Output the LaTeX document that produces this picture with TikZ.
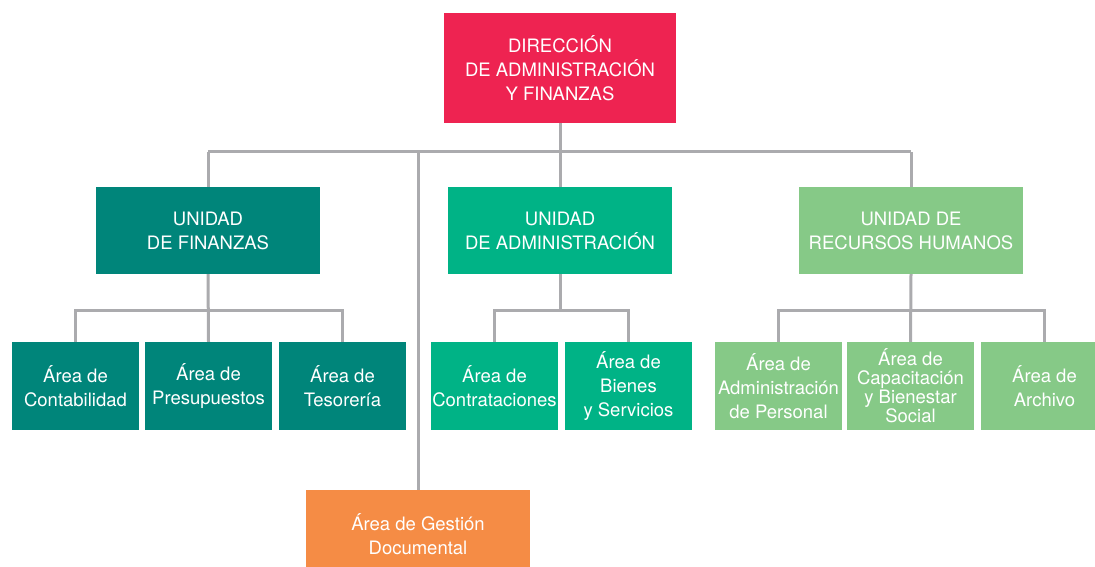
\documentclass[tikz,border=0pt]{standalone}
\usepackage{fontspec}
\setmainfont{TeX Gyre Heros}
\definecolor{dircol}{HTML}{EE2351}
\definecolor{fincol}{HTML}{00857A}
\definecolor{admcol}{HTML}{00B386}
\definecolor{rhcol}{HTML}{86C987}
\definecolor{doccol}{HTML}{F58C45}
\definecolor{linecol}{HTML}{ABABAE}

\begin{document}
\begin{tikzpicture}[x=1pt,y=-1pt,
  box/.style={draw=none,text=white,align=center,inner sep=0pt,
    font=\fontsize{18.5}{24}\selectfont},
  unitbox/.style={box,minimum width=224pt,minimum height=87pt},
  areabox/.style={box,minimum width=127pt,minimum height=88pt},
  link/.style={draw=linecol,line width=3pt}]
\useasboundingbox (0,0) rectangle (1095,567);
\clip (0,0) rectangle (1095,567);
% boxes
\node[box,fill=dircol,minimum width=232pt,minimum height=110pt] (dir) at (560,68)
  {DIRECCIÓN\\DE ADMINISTRACIÓN\\Y FINANZAS};
\node[unitbox,fill=fincol] (fin) at (208,230.5) {UNIDAD\\DE FINANZAS};
\node[unitbox,fill=admcol] (adm) at (560,230.5) {UNIDAD\\DE ADMINISTRACIÓN};
\node[unitbox,fill=rhcol] (rh) at (911,230.5) {UNIDAD DE\\RECURSOS HUMANOS};
\node[areabox,fill=fincol] (con) at (75.5,386) {Área de\\Contabilidad};
\node[areabox,fill=fincol] (pre) at (208.5,386) {Área de\\Presupuestos};
\node[areabox,fill=fincol] (tes) at (342.5,386) {Área de\\Tesorería};
\node[areabox,fill=admcol] (ctr) at (494.5,386) {Área de\\Contrataciones};
\node[areabox,fill=admcol] (bie) at (628.5,386) {Área de\\Bienes\\y Servicios};
\node[areabox,fill=rhcol] (per) at (778.5,386) {Área de\\Administración\\de Personal};
\node[areabox,fill=rhcol,font=\fontsize{18.5}{19}\selectfont] (cap) at (910.5,386)
  {Área de\\Capacitación\\y Bienestar\\Social};
\node[areabox,fill=rhcol] (arc) at (1044.5,386) {Área de\\Archivo};
\node[unitbox,fill=doccol,minimum height=88pt] (doc) at (418,534) {Área de Gestión\\Documental};
% connectors
\coordinate (busL) at (208,152);
\coordinate (busR) at (911,152);
\draw[link] (dir.south) -- (dir.south |- busL);
\draw[link] (busL) -- (busR);
\draw[link] (fin.north) -- (busL);
\draw[link] (adm.north) -- (adm.north |- busL);
\draw[link] (rh.north) -- (busR);
\draw[link] (doc.north) -- (doc.north |- busL);
\draw[link] (con.north) -- ++(0,-31) -| (tes.north);
\draw[link] (fin.south) -- (pre.north);
\draw[link] (ctr.north) -- ++(0,-31) -| (bie.north);
\draw[link] (adm.south) -- (adm.south |- 0,311);
\draw[link] (per.north) -- ++(0,-31) -| (arc.north);
\draw[link] (rh.south) -- (cap.north);
\end{tikzpicture}
\end{document}
